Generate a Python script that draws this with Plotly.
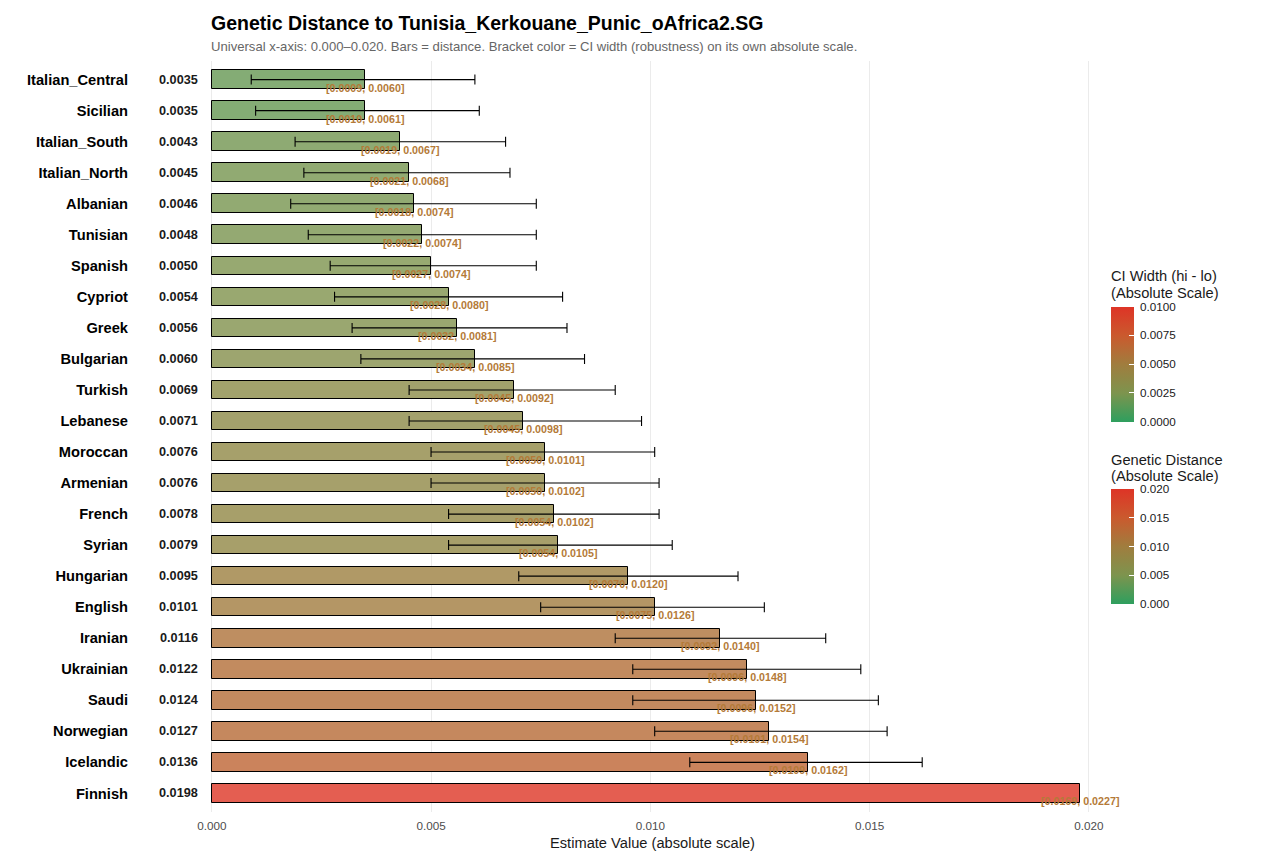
import plotly.graph_objects as go

# ---------------- data ----------------
populations = ["Italian_Central", "Sicilian", "Italian_South", "Italian_North", "Albanian",
               "Tunisian", "Spanish", "Cypriot", "Greek", "Bulgarian", "Turkish", "Lebanese",
               "Moroccan", "Armenian", "French", "Syrian", "Hungarian", "English", "Iranian",
               "Ukrainian", "Saudi", "Norwegian", "Icelandic", "Finnish"]
estimates = [0.0035, 0.0035, 0.0043, 0.0045, 0.0046, 0.0048, 0.0050, 0.0054, 0.0056, 0.0060,
             0.0069, 0.0071, 0.0076, 0.0076, 0.0078, 0.0079, 0.0095, 0.0101, 0.0116, 0.0122,
             0.0124, 0.0127, 0.0136, 0.0198]
ci_lo = [0.0009, 0.0010, 0.0019, 0.0021, 0.0018, 0.0022, 0.0027, 0.0028, 0.0032, 0.0034,
         0.0045, 0.0045, 0.0050, 0.0050, 0.0054, 0.0054, 0.0070, 0.0075, 0.0092, 0.0096,
         0.0096, 0.0101, 0.0109, 0.0169]
ci_hi = [0.0060, 0.0061, 0.0067, 0.0068, 0.0074, 0.0074, 0.0074, 0.0080, 0.0081, 0.0085,
         0.0092, 0.0098, 0.0101, 0.0102, 0.0102, 0.0105, 0.0120, 0.0126, 0.0140, 0.0148,
         0.0152, 0.0154, 0.0162, 0.0227]
x_ticks = [0.000, 0.005, 0.010, 0.015, 0.020]
x_tick_labels = ["0.000", "0.005", "0.010", "0.015", "0.020"]
ci_ticks = [0.0, 0.0025, 0.005, 0.0075, 0.010]
ci_tick_labels = ["0.0000", "0.0025", "0.0050", "0.0075", "0.0100"]
dist_ticks = [0.000, 0.005, 0.010, 0.015, 0.020]
dist_tick_labels = ["0.000", "0.005", "0.010", "0.015", "0.020"]
X_MAX = 0.020
CI_MAX = 0.010

title_text = "Genetic Distance to Tunisia_Kerkouane_Punic_oAfrica2.SG"
subtitle_text = ("Universal x-axis: 0.000\u20130.020. Bars = distance. Bracket color = CI width "
                 "(robustness) on its own absolute scale.")

# ---------------- layout helpers ----------------
W, H = 1264, 864
ML, MR, MT, MB = 203, 162, 61, 52
PW, PH = W - ML - MR, H - MT - MB


def px_x(px):
    return (px - ML) / PW


def px_y(py):
    return 1 - (py - MT) / PH


FONT = "Liberation Sans, Arial, sans-serif"

base_scale = [[0.0, "#2E9F5E"], [0.25, "#7D944E"], [0.5, "#A07D3E"],
              [0.75, "#CA5A2E"], [1.0, "#DE3426"]]


def lighten(hexc, a=0.8):
    h = hexc.lstrip("#")
    r, g, b = (int(h[i:i + 2], 16) for i in (0, 2, 4))
    r, g, b = (round(a * c + (1 - a) * 255) for c in (r, g, b))
    return f"rgb({r},{g},{b})"


bar_scale = [[s, lighten(c)] for s, c in base_scale]

n = len(populations)
idx = list(range(n))

fig = go.Figure()

fig.add_trace(go.Bar(
    orientation="h", x=estimates, y=idx, width=0.6,
    marker=dict(color=estimates, colorscale=bar_scale, cmin=0, cmax=X_MAX,
                line=dict(color="black", width=1)),
    hoverinfo="skip", showlegend=False,
))

keep = [i for i in idx if ci_hi[i] <= X_MAX and ci_lo[i] >= 0]
ci_width = [ci_hi[i] - ci_lo[i] for i in keep]

cb_common = dict(
    x=px_x(1111), xanchor="left", xpad=0, yanchor="top", ypad=0,
    len=115, lenmode="pixels", thickness=23, thicknessmode="pixels",
    outlinewidth=0, ticks="inside", ticklen=5, tickcolor="white", tickwidth=1,
    tickfont=dict(family=FONT, size=11.7, color="#1A1A1A"),
)

fig.add_trace(go.Scatter(
    x=[estimates[i] for i in keep], y=keep, mode="markers",
    marker=dict(size=1, opacity=0, color=ci_width, colorscale=base_scale,
                cmin=0, cmax=CI_MAX, showscale=True,
                colorbar=dict(cb_common, y=px_y(306.5), tickvals=ci_ticks,
                              ticktext=["\u00a0" + t for t in ci_tick_labels])),
    error_x=dict(type="data", symmetric=False,
                 array=[ci_hi[i] - estimates[i] for i in keep],
                 arrayminus=[estimates[i] - ci_lo[i] for i in keep],
                 color="black", thickness=1.1, width=5),
    hoverinfo="skip", showlegend=False,
))

fig.add_trace(go.Scatter(
    x=estimates, y=idx, mode="markers",
    marker=dict(size=1, opacity=0, color=estimates, colorscale=base_scale,
                cmin=0, cmax=X_MAX, showscale=True,
                colorbar=dict(cb_common, y=px_y(489), tickvals=dist_ticks,
                              ticktext=["\u00a0" + t for t in dist_tick_labels])),
    hoverinfo="skip", showlegend=False,
))

annotations = []
label_color = "#B47A38"
for i in idx:
    annotations.append(dict(
        x=estimates[i], y=i, xref="x", yref="y", yshift=-8,
        text=f"[{ci_lo[i]:.4f}, {ci_hi[i]:.4f}]", showarrow=False,
        xanchor="center", yanchor="middle",
        font=dict(family=FONT, size=10.7, color=label_color, weight="bold"),
    ))
    annotations.append(dict(
        x=0, xref="paper", y=i, yref="y", xshift=-3,
        text=f"{estimates[i]:.4f}", showarrow=False,
        xanchor="right", yanchor="middle",
        font=dict(family=FONT, size=12.7, color="#1A1A1A", weight="bold"),
    ))

# title & subtitle
annotations.append(dict(x=px_x(209), y=px_y(22.5), xref="paper", yref="paper",
                        text=title_text, showarrow=False, xanchor="left", yanchor="middle",
                        font=dict(family=FONT, size=19.5, color="black", weight="bold")))
annotations.append(dict(x=px_x(209), y=px_y(46.5), xref="paper", yref="paper",
                        text=subtitle_text, showarrow=False, xanchor="left", yanchor="middle",
                        font=dict(family=FONT, size=13.1, color="#666666")))

# legend titles
for txt, py in [("CI Width (hi - lo)", 276), ("(Absolute Scale)", 293),
                ("Genetic Distance", 460), ("(Absolute Scale)", 476)]:
    annotations.append(dict(x=px_x(1109), y=px_y(py), xref="paper", yref="paper",
                            text=txt, showarrow=False, xanchor="left", yanchor="middle",
                            font=dict(family=FONT, size=14.67, color="#1A1A1A")))

fig.update_layout(
    width=W, height=H,
    margin=dict(l=ML, r=MR, t=MT, b=MB, autoexpand=False),
    plot_bgcolor="white", paper_bgcolor="white",
    font=dict(family=FONT),
    annotations=annotations,
    bargap=0,
    xaxis=dict(range=[-0.0002, 0.0203], tickvals=x_ticks, ticktext=x_tick_labels,
               showgrid=True, gridcolor="#EBEBEB", gridwidth=1, zeroline=False,
               showline=False, ticks="", ticklabelstandoff=5,
               tickfont=dict(family=FONT, size=11.7, color="#4D4D4D"),
               title=dict(text="Estimate Value (absolute scale)", standoff=7,
                          font=dict(family=FONT, size=14.67, color="#1A1A1A")),
               automargin=False),
    yaxis=dict(range=[n - 1 + 0.6, -0.6], tickvals=idx, ticktext=populations,
               showgrid=False, zeroline=False, showline=False, ticks="",
               ticklabelstandoff=74,
               tickfont=dict(family=FONT, size=14.67, color="black", weight="bold"),
               automargin=False),
)

fig.write_html("out.html")
